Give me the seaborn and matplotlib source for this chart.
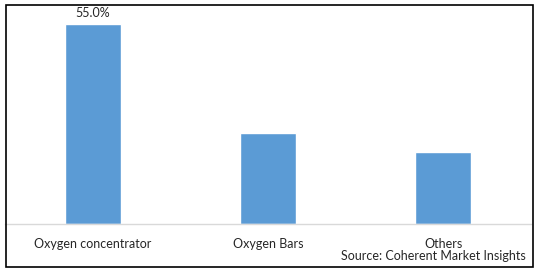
import matplotlib
matplotlib.use("Agg")
import matplotlib.pyplot as plt
import seaborn as sns
import pandas as pd
from matplotlib.patches import Rectangle

categories = ["Oxygen concentrator", "Oxygen Bars", "Others"]
values = [55.0, 25.0, 19.8]
label_text = ["55.0%", "", ""]
source = "Source: Coherent Market Insights"

sns.set_theme(style="white")
plt.rcParams['font.family'] = ['Lato', 'DejaVu Sans']

W, H = 538, 272
fig = plt.figure(figsize=(W / 100, H / 100), dpi=100)
ax = fig.add_axes([5 / W, 1 - 224 / H, 526 / W, (224 - 5) / H])

df = pd.DataFrame({"cat": categories, "val": values})
sns.barplot(data=df, x="cat", y="val", color="#5B9BD5", saturation=1, width=0.32, ax=ax)

ax.set_xlim(-0.5, 2.5)
ax.set_ylim(0, 60.2)
ax.set_yticks([])
ax.set_xlabel("")
ax.set_ylabel("")
for s in ["top", "left", "right"]:
    ax.spines[s].set_visible(False)
ax.spines["bottom"].set_color("#D9D9D9")
ax.spines["bottom"].set_linewidth(1)
ax.tick_params(axis="x", length=0, pad=10, labelsize=9, colors="#262626")

for i, (v, t) in enumerate(zip(values, label_text)):
    if t:
        ax.text(i, v + 1.3, t, ha="center", va="bottom", fontsize=9, color="#262626")

fig.text(526 / W, 1 - 256 / H, source, ha="right", va="center", fontsize=9, color="#262626")

fig.patches.append(Rectangle((5.5 / W, 1 - 266.5 / H), 527 / W, 262 / H, transform=fig.transFigure,
                             fill=False, edgecolor="black", linewidth=1.2))

fig.savefig("out.png", dpi=100)
